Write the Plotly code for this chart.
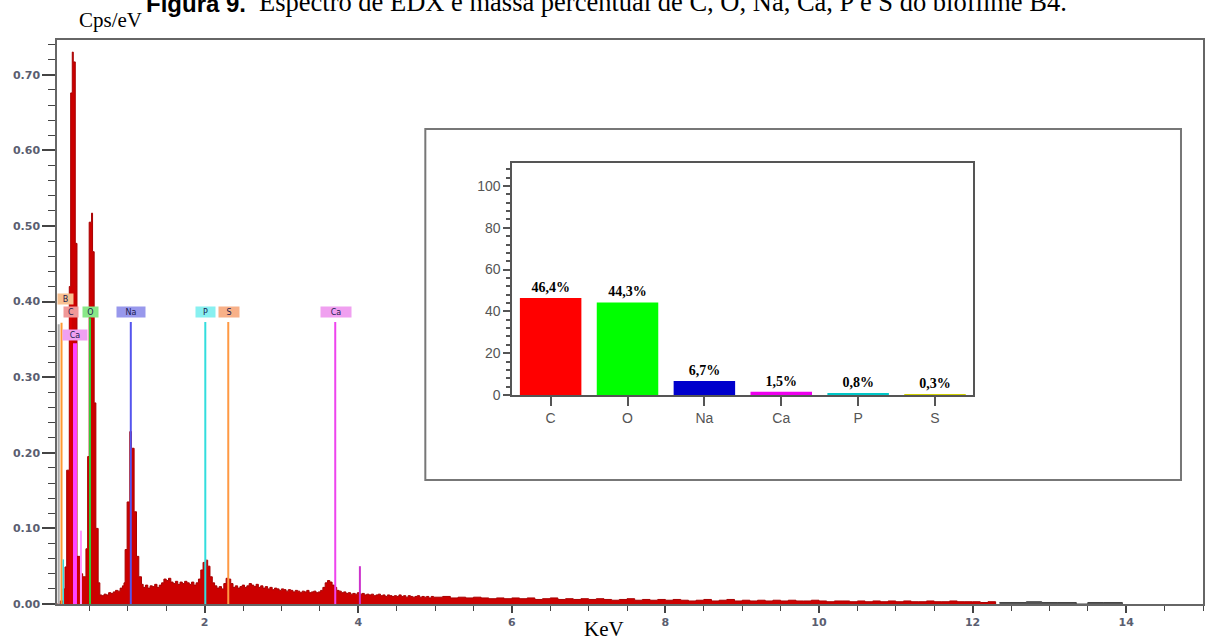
import plotly.graph_objects as go

# ---------------- EDX spectrum (step edges in keV, counts in cps/eV) ----------------
spec_kev = [
    0.078, 0.120, 0.160, 0.182, 0.204, 0.238, 0.256, 0.277, 0.290, 0.316, 0.338, 0.377,
    0.412, 0.455, 0.477, 0.497, 0.528, 0.541, 0.562, 0.584, 0.614, 0.636,
    0.66, 0.69, 0.72, 0.75, 0.78, 0.81, 0.84, 0.87, 0.90, 0.93,
    0.950, 0.965, 0.991, 1.026, 1.048, 1.082, 1.113, 1.143, 1.178,
    1.20, 1.23, 1.26, 1.29, 1.32, 1.35, 1.38, 1.41, 1.44, 1.47, 1.50, 1.53, 1.56, 1.59,
    1.62, 1.65, 1.68, 1.71, 1.74, 1.77, 1.80, 1.83, 1.86, 1.89, 1.92,
    1.95, 1.98, 2.01, 2.04, 2.07, 2.10, 2.13, 2.16, 2.19, 2.22, 2.25,
    2.28, 2.31, 2.34, 2.37, 2.40, 2.43, 2.46, 2.49, 2.52, 2.55, 2.58, 2.61, 2.64, 2.67,
    2.70, 2.73, 2.76, 2.79, 2.82, 2.85, 2.88, 2.91, 2.94, 2.97, 3.00, 3.03, 3.06, 3.09,
    3.12, 3.15, 3.18, 3.21, 3.24, 3.27, 3.30, 3.33, 3.36, 3.39, 3.42, 3.45, 3.48, 3.51, 3.54,
    3.57, 3.60, 3.63, 3.66, 3.69, 3.72, 3.75, 3.78, 3.81, 3.84, 3.87, 3.90, 3.93, 3.96,
    3.99, 4.02, 4.05, 4.08, 4.11, 4.14, 4.17, 4.20, 4.23, 4.26, 4.29, 4.32, 4.35, 4.38,
    4.41, 4.44, 4.47, 4.50, 4.53, 4.56, 4.59, 4.62, 4.65, 4.68, 4.71, 4.74, 4.77, 4.80,
    4.83, 4.86, 4.89, 4.92, 4.95, 4.98,
    5.0, 5.1, 5.2, 5.3, 5.4, 5.5, 5.6, 5.7, 5.8, 5.9, 6.0, 6.1, 6.2, 6.3, 6.4, 6.5, 6.6,
    6.7, 6.8, 6.9, 7.0, 7.1, 7.2, 7.3, 7.4, 7.5, 7.6, 7.7, 7.8, 7.9, 8.0, 8.1, 8.2, 8.3,
    8.4, 8.5, 8.6, 8.7, 8.8, 8.9, 9.0, 9.1, 9.2, 9.3, 9.4, 9.5, 9.6, 9.7, 9.8, 9.9, 10.0,
    10.1, 10.2, 10.3, 10.4, 10.5, 10.6, 10.7, 10.8, 10.9, 11.0, 11.1, 11.2, 11.3, 11.4,
    11.5, 11.6, 11.7, 11.8, 11.9, 12.0, 12.1, 12.2, 12.3,
]
spec_cps = [
    0.000, 0.004, 0.020, 0.049, 0.177, 0.420, 0.676, 0.730, 0.717, 0.477, 0.063, 0.040,
    0.036, 0.073, 0.195, 0.505, 0.517, 0.466, 0.266, 0.100, 0.028, 0.012,
    0.011, 0.013, 0.012, 0.015, 0.014, 0.016, 0.018, 0.017, 0.021, 0.024,
    0.028, 0.072, 0.135, 0.228, 0.206, 0.122, 0.063, 0.036, 0.026,
    0.022, 0.025, 0.021, 0.024, 0.023, 0.026, 0.022, 0.025, 0.028, 0.033, 0.031, 0.034, 0.029, 0.027,
    0.030, 0.026, 0.029, 0.027, 0.030, 0.028, 0.026, 0.029, 0.025, 0.028, 0.033,
    0.045, 0.055, 0.058, 0.050, 0.036, 0.028, 0.024, 0.021, 0.023, 0.020, 0.027,
    0.034, 0.033, 0.027, 0.022, 0.024, 0.021, 0.023, 0.025, 0.022, 0.024, 0.027, 0.025, 0.023, 0.026,
    0.022, 0.024, 0.021, 0.023, 0.020, 0.022, 0.019, 0.021, 0.020, 0.018, 0.020, 0.019, 0.017, 0.019,
    0.018, 0.016, 0.018, 0.017, 0.015, 0.017, 0.016, 0.018, 0.015, 0.016, 0.017, 0.015, 0.016, 0.018, 0.022,
    0.028, 0.031, 0.029, 0.025, 0.022, 0.018, 0.017, 0.015, 0.016, 0.014, 0.015, 0.013, 0.014, 0.013,
    0.015, 0.013, 0.014, 0.012, 0.013, 0.012, 0.013, 0.011, 0.012, 0.013, 0.011, 0.012, 0.010, 0.012,
    0.011, 0.010, 0.011, 0.010, 0.012, 0.010, 0.011, 0.009, 0.011, 0.010, 0.009, 0.010, 0.011, 0.009,
    0.010, 0.009, 0.010, 0.008, 0.010, 0.009,
    0.009, 0.010, 0.008, 0.009, 0.008, 0.009, 0.008, 0.007, 0.008, 0.007, 0.008, 0.007, 0.008, 0.006, 0.007, 0.008, 0.006,
    0.007, 0.006, 0.007, 0.006, 0.007, 0.006, 0.005, 0.006, 0.007, 0.005, 0.006, 0.005, 0.006, 0.005, 0.006, 0.005, 0.004,
    0.005, 0.006, 0.004, 0.005, 0.006, 0.004, 0.005, 0.004, 0.005, 0.004, 0.005, 0.004, 0.005, 0.004, 0.004, 0.005, 0.004,
    0.003, 0.004, 0.004, 0.003, 0.004, 0.003, 0.004, 0.003, 0.004, 0.003, 0.004, 0.003, 0.003, 0.004,
    0.003, 0.003, 0.004, 0.003, 0.003, 0.003, 0.002, 0.003, 0.000,
]
# sparse high-energy tail (dark marks)
tail_kev = [12.35, 12.5, 12.7, 12.9, 13.1, 13.35, 13.5, 13.7, 13.95]
tail_cps = [0.002, 0.002, 0.003, 0.002, 0.002, 0.000, 0.002, 0.002, 0.000]

# element marker lines
marker_kev = [0.100, 0.137, 0.160, 0.256, 0.312, 0.390, 0.508, 1.039, 2.009, 2.308, 3.701, 4.022]
marker_top = [0.370, 0.372, 0.059, 0.380, 0.345, 0.097, 0.378, 0.373, 0.373, 0.373, 0.373, 0.050]
marker_color = ["#aaaaaa", "#ff9933", "#33dddd", "#dd0000", "#ff44ff", "#ff99ff",
                "#33cc33", "#5555ee", "#33dddd", "#ff9944", "#ee44ee", "#cc33cc"]
marker_width = [2, 2, 1.5, 2, 4, 2, 2, 2, 2, 2, 2, 2]

# element labels
lab_text = ["B", "C", "O", "Ca", "Na", "P", "S", "Ca"]
lab_kev = [0.186, 0.256, 0.517, 0.312, 1.045, 2.017, 2.320, 3.710]
lab_cps = [0.404, 0.386, 0.386, 0.356, 0.386, 0.386, 0.386, 0.386]
lab_bg = ["#f8c090", "#f09898", "#88e888", "#f0a0f0", "#9898ec", "#88f0f0", "#f8b088", "#f0a0f0"]
lab_w = [15, 14, 15, 24, 28, 19, 20, 30]

# ---------------- inset: mass percentage ----------------
inset_elements = ["C", "O", "Na", "Ca", "P", "S"]
inset_mass = [46.4, 44.3, 6.7, 1.5, 0.8, 0.3]
inset_colors = ["#ff0000", "#00ff00", "#0000cc", "#ee00ee", "#00c8c8", "#d0d000"]
inset_labels = [f"{v:.1f}%".replace(".", ",") for v in inset_mass]

fig = go.Figure()

fig.add_trace(go.Scatter(
    x=spec_kev, y=spec_cps, mode="lines", line=dict(shape="hv", color="#a80000", width=1),
    fill="tozeroy", fillcolor="#cc0000", hoverinfo="skip", showlegend=False))
fig.add_trace(go.Scatter(
    x=tail_kev, y=tail_cps, mode="lines", line=dict(shape="hv", color="#444444", width=1),
    fill="tozeroy", fillcolor="#555555", hoverinfo="skip", showlegend=False))

for k, t, c, w in zip(marker_kev, marker_top, marker_color, marker_width):
    fig.add_trace(go.Scatter(x=[k, k], y=[0, t], mode="lines",
                             line=dict(color=c, width=w), hoverinfo="skip", showlegend=False))

for txt, k, cps, bg, w in zip(lab_text, lab_kev, lab_cps, lab_bg, lab_w):
    fig.add_annotation(x=k, y=cps, xref="x", yref="y", text=txt, showarrow=False,
                       font=dict(family="DejaVu Sans", size=8, color="#1a1a50"),
                       bgcolor=bg, width=w, height=10, borderpad=0)

fig.add_trace(go.Bar(
    x=inset_elements, y=inset_mass, marker=dict(color=inset_colors, line=dict(width=0)),
    width=0.8, text=inset_labels, textposition="outside", cliponaxis=False,
    textfont=dict(family="Liberation Serif", size=14, color="black", weight="bold"),
    xaxis="x2", yaxis="y2", showlegend=False, hoverinfo="skip"))

tickfont_main = dict(family="DejaVu Sans", size=11, color="#5a5e70", weight="bold")
fig.update_layout(
    width=1208, height=641,
    margin=dict(l=57, r=3, t=40, b=37),
    paper_bgcolor="white", plot_bgcolor="white",
    showlegend=False,
    xaxis=dict(range=[0.078, 15.0], dtick=2, tick0=0, showgrid=False, zeroline=False,
               showline=True, mirror=True, linecolor="#666666", linewidth=1.5,
               ticks="outside", ticklen=7, tickwidth=1.5, tickcolor="#444444",
               minor=dict(dtick=0.5, ticks="outside", ticklen=5, tickwidth=1.2, tickcolor="#444444"),
               tickfont=tickfont_main),
    yaxis=dict(range=[0, 0.746], dtick=0.1, tick0=0, tickformat=".2f", showgrid=False,
               zeroline=False, showline=True, mirror=True, linecolor="#666666", linewidth=1.5,
               ticks="outside", ticklen=13, tickwidth=1.5, tickcolor="#444444",
               minor=dict(dtick=0.02, ticks="outside", ticklen=7, tickwidth=1.2, tickcolor="#444444"),
               tickfont=tickfont_main),
    xaxis2=dict(domain=[0.3972, 0.7997], anchor="y2", type="category", range=[-0.5, 5.5],
                showgrid=False, zeroline=False, showline=True, mirror=True,
                linecolor="#555555", linewidth=1.5, ticks="outside", ticklen=9,
                tickcolor="#555555", tickwidth=1.5,
                tickfont=dict(family="Liberation Sans", size=14, color="#555555")),
    yaxis2=dict(domain=[0.3706, 0.7819], anchor="x2", range=[0, 111], dtick=20, tick0=0,
                showgrid=False, zeroline=False, showline=True, mirror=True,
                linecolor="#555555", linewidth=1.5, ticks="outside", ticklen=7,
                tickcolor="#555555", tickwidth=1.5,
                minor=dict(dtick=4, ticks="outside", ticklen=4, tickcolor="#555555"),
                tickfont=dict(family="Liberation Sans", size=14, color="#555555")),
    shapes=[dict(type="rect", xref="paper", yref="paper", x0=0.3214, x1=0.9808,
                 y0=0.2199, y1=0.8422, line=dict(color="#777777", width=2),
                 fillcolor="white", layer="below")],
)

fig.add_annotation(x=0.1664, y=1.0656, xref="paper", yref="paper", xanchor="right",
                   yanchor="middle", showarrow=False, text="<b>Figura 9.</b>",
                   font=dict(family="Liberation Sans", size=24, color="black"))
fig.add_annotation(x=0.1742, y=1.0674, xref="paper", yref="paper", xanchor="left",
                   yanchor="middle", showarrow=False,
                   text="Espectro de EDX e massa percentual de C, O, Na, Ca, P e S do biofilme B4.",
                   font=dict(family="Liberation Serif", size=26.5, color="black"))
fig.add_annotation(x=0.047, y=1.0355, xref="paper", yref="paper", xanchor="center",
                   yanchor="middle", showarrow=False, text="Cps/eV",
                   font=dict(family="Liberation Serif", size=21, color="black"))
fig.add_annotation(x=0.4774, y=-0.0443, xref="paper", yref="paper", xanchor="center",
                   yanchor="middle", showarrow=False, text="KeV",
                   font=dict(family="Liberation Serif", size=21, color="black"))

fig.write_html("out.html", config={"displayModeBar": False},
               post_script="document.body.style.margin='0px';")
